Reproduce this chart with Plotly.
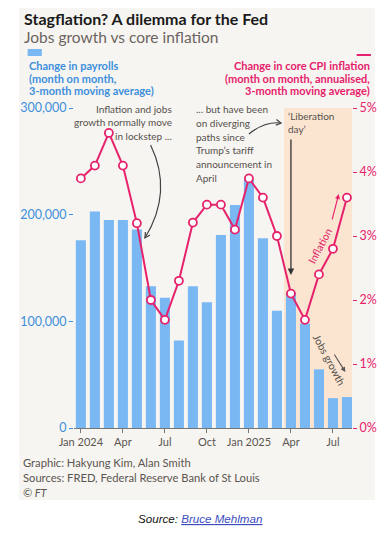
import plotly.graph_objects as go
import numpy as np

# ---- data ----
months = ["2024-01", "2024-02", "2024-03", "2024-04", "2024-05", "2024-06",
          "2024-07", "2024-08", "2024-09", "2024-10", "2024-11", "2024-12",
          "2025-01", "2025-02", "2025-03", "2025-04", "2025-05", "2025-06",
          "2025-07", "2025-08"]
payrolls = [176000, 203000, 195000, 195000, 186000, 133000, 122000, 82000,
            133000, 118000, 181000, 209000, 233000, 178000, 110000, 127000,
            98000, 55000, 28000, 29000]
core_cpi = [3.90, 4.10, 4.61, 4.10, 3.20, 2.00, 1.69, 2.30, 3.21, 3.49, 3.49,
            3.10, 3.90, 3.60, 3.00, 2.10, 1.69, 2.40, 2.80, 3.60]
tick_months = ["2024-01", "2024-04", "2024-07", "2024-10", "2025-01", "2025-04", "2025-07"]
tick_labels = ["Jan 2024", "Apr", "Jul", "Oct", "Jan 2025", "Apr", "Jul"]
pay_ticks = [0, 100000, 200000, 300000]
cpi_ticks = [0, 1, 2, 3, 4, 5]
cpi_tick_labels = ["0%", "1%", "2%", "3%", "4%", "5%"]
liberation_month = "2025-04"

# ---- style ----
PAGE_W, PAGE_H = 389, 538
OFF = 8  # default body margin of the html page
W, H = PAGE_W - OFF, PAGE_H - OFF
L, R, T, B = 58, 352, 108, 428  # plot area in page pixels
FONT = "Lato"
BLUE_BAR = "#79b8f3"
BLUE_TXT = "#3d8fdc"
PINK = "#e5226b"
GREY = "#55504c"
CARD = "#f7f5f2"
SHADE = "#fbe5d1"


def px(x):
    return (x - L) / (R - L)


def py(y):
    return (B - y) / (B - T)


fig = go.Figure()
fig.add_trace(go.Bar(x=months, y=payrolls, marker=dict(color=BLUE_BAR, line=dict(width=0)),
                     yaxis="y", showlegend=False))
fig.add_trace(go.Scatter(x=months, y=core_cpi, yaxis="y2", mode="lines+markers",
                         line=dict(color=PINK, width=2),
                         marker=dict(symbol="circle", size=8, color="white",
                                     line=dict(color=PINK, width=1.8)),
                         showlegend=False))

shapes = []
# card background
shapes.append(dict(type="rect", xref="paper", yref="paper", x0=px(0), x1=px(376),
                   y0=py(0), y1=py(500), fillcolor=CARD, line=dict(width=0), layer="below"))
# liberation day shading
shapes.append(dict(type="rect", xref="x", yref="paper", x0=14.5, x1=19.6, y0=0, y1=1,
                   fillcolor=SHADE, line=dict(width=0), layer="below"))
# legend keys
shapes.append(dict(type="rect", xref="paper", yref="paper", x0=px(9), x1=px(24),
                   y0=py(49), y1=py(56), fillcolor=BLUE_BAR, line=dict(width=0)))
shapes.append(dict(type="line", xref="paper", yref="paper", x0=px(357), x1=px(372),
                   y0=py(55), y1=py(55), line=dict(color=PINK, width=2)))


def curve(p0, c, p1, color="#444"):
    d = "M {},{} Q {},{} {},{}".format(px(p0[0]), py(p0[1]), px(c[0]), py(c[1]),
                                       px(p1[0]), py(p1[1]))
    shapes.append(dict(type="path", xref="paper", yref="paper", path=d,
                       line=dict(color=color, width=1.2)))
    v = np.array([p1[0] - c[0], p1[1] - c[1]], dtype=float)
    v /= np.linalg.norm(v)
    pts = []
    for a in (np.radians(28), -np.radians(28)):
        rot = np.array([[np.cos(a), -np.sin(a)], [np.sin(a), np.cos(a)]])
        w = rot @ (-v) * 6
        pts.append((p1[0] + w[0], p1[1] + w[1]))
    d2 = "M {},{} L {},{} L {},{}".format(px(pts[0][0]), py(pts[0][1]), px(p1[0]), py(p1[1]),
                                          px(pts[1][0]), py(pts[1][1]))
    shapes.append(dict(type="path", xref="paper", yref="paper", path=d2,
                       line=dict(color=color, width=1.2)))


curve((139, 145), (163, 192), (133, 238))
curve((243, 134), (260, 121), (277, 123))

ann = []


def txt(x, y, s, size=10.5, color=GREY, anchor="left", bold=False, italic=False, angle=0,
        family=FONT, yanchor="middle"):
    if bold:
        s = "<b>" + s + "</b>"
    if italic:
        s = "<i>" + s + "</i>"
    ann.append(dict(x=px(x), y=py(y), xref="paper", yref="paper", text=s, showarrow=False,
                    xanchor=anchor, yanchor=yanchor, textangle=angle, borderpad=0,
                    font=dict(family=family, size=size, color=color)))


txt(4, 8.2, "Stagflation? A dilemma for the Fed", size=16, color="#1a1a1a", bold=True,
    yanchor="top")
txt(4, 36.5, "Jobs growth vs core inflation", size=15.5, color="#6b6460")

for i, s in enumerate(["Change in payrolls", "(month on month,", "3-month moving average)"]):
    txt(9, 65.5 + 12.6 * i, s, size=11, color=BLUE_TXT, bold=True)
for i, s in enumerate(["Change in core CPI inflation", "(month on month, annualised,",
                       "3-month moving average)"]):
    txt(372, 65.5 + 12.6 * i, s, size=11, color=PINK, bold=True, anchor="right")

for i, s in enumerate(["Inflation and jobs", "growth normally move", "in lockstep ..."]):
    txt(163, 108.5 + 13.8 * i, s, size=10, color=GREY, anchor="right")
for i, s in enumerate(["... but have been", "on diverging", "paths since",
                       "Trump\u2019s tariff", "announcement in", "April"]):
    txt(186, 109 + 13.8 * i, s, size=10, color=GREY)
for i, s in enumerate(["\u2018Liberation", "day\u2019"]):
    txt(283, 116 + 13.5 * i, s, size=10, color=GREY)

txt(318, 246, "Inflation", size=10.5, color=PINK, anchor="center", angle=-62)
txt(328, 360, "Jobs growth", size=10.5, color=GREY, anchor="center", angle=62)

for i, s in enumerate(["Graphic: Hakyung Kim, Alan Smith",
                       "Sources: FRED, Federal Reserve Bank of St Louis"]):
    txt(3, 462 + 15.3 * i, s, size=11.2, color="#5a5550")
txt(3, 492, "\u00a9 FT", size=11, color="#5a5550", italic=True)

ann.append(dict(x=px(191), y=py(518), xref="paper", yref="paper", showarrow=False,
                xanchor="center", yanchor="middle",
                text="<i>Source: <span style='color:#3b4cc0'><u>Bruce Mehlman</u></span></i>",
                font=dict(family="Liberation Sans", size=11.6, color="#111")))

# arrows
ann.append(dict(x=liberation_month, y=py(275), xref="x", yref="paper", ax=0, ay=-137,
                axref="pixel", ayref="pixel", text="", showarrow=True, arrowhead=2,
                arrowsize=1, arrowwidth=1.3, arrowcolor="#333"))
ann.append(dict(x=px(338), y=py(194), xref="paper", yref="paper", ax=-7, ay=27,
                text="", showarrow=True, arrowhead=2, arrowsize=0.9, arrowwidth=1.1,
                arrowcolor=PINK))
ann.append(dict(x=px(345), y=py(372), xref="paper", yref="paper", ax=-12, ay=-19,
                text="", showarrow=True, arrowhead=2, arrowsize=0.9, arrowwidth=1.1,
                arrowcolor="#555"))

fig.update_layout(
    width=W, height=H,
    margin=dict(l=L - OFF, r=PAGE_W - R, t=T - OFF, b=PAGE_H - B, pad=0),
    paper_bgcolor="white", plot_bgcolor="rgba(0,0,0,0)",
    bargap=0.28, showlegend=False,
    font=dict(family=FONT),
    shapes=shapes, annotations=ann,
    xaxis=dict(type="category", categoryorder="array", categoryarray=months,
               range=[-0.49, 19.36], tickmode="array", tickvals=tick_months,
               ticktext=tick_labels, ticks="outside", ticklen=4, tickcolor="#777",
               showline=True, linecolor="#777", linewidth=1, showgrid=False,
               zeroline=False, tickfont=dict(size=11, color="#5a5550")),
    yaxis=dict(range=[0, 300000], tickvals=pay_ticks, tickformat=",",
               ticks="outside", ticklen=4, tickcolor=BLUE_TXT, showgrid=False,
               zeroline=False, showline=False,
               tickfont=dict(size=12.5, color=BLUE_TXT)),
    yaxis2=dict(range=[0, 5], overlaying="y", side="right", tickvals=cpi_ticks,
                ticktext=cpi_tick_labels, ticks="outside", ticklen=4, tickcolor=PINK,
                showgrid=False, zeroline=False, showline=False,
                tickfont=dict(size=12.5, color=PINK)),
)

fig.write_html("out.html")
